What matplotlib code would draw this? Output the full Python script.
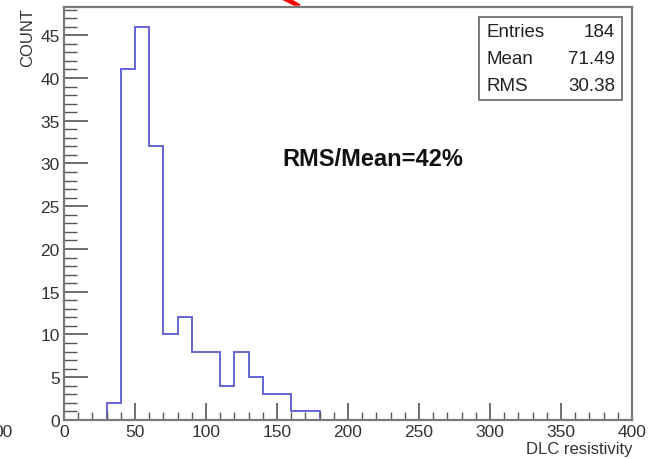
import numpy as np
import matplotlib
matplotlib.use("Agg")
import matplotlib.pyplot as plt
from matplotlib.ticker import MultipleLocator
from matplotlib.patches import Rectangle, Polygon

plt.rcParams['font.family'] = ['Liberation Sans', 'DejaVu Sans']

# histogram of DLC resistivity, 10-wide bins starting at 30
bin_edges = [30, 40, 50, 60, 70, 80, 90, 100, 110, 120, 130, 140, 150, 160, 170, 180]
counts = [2, 41, 46, 32, 10, 12, 8, 8, 4, 8, 5, 3, 3, 1, 1]

stat_names = ["Entries", "Mean", "RMS"]
stat_values = ["184", "71.49", "30.38"]
ratio_label = "RMS/Mean=42%"

W, H = 659, 460
fig = plt.figure(figsize=(W / 100, H / 100), dpi=100)
ax = fig.add_axes([64 / W, 1 - 421 / H, (632 - 64) / W, (421 - 8) / H])

ax.stairs(counts, bin_edges, color='#6464d6', lw=1.4)
ax.set_xlim(0, 400)
ax.set_ylim(0, 1.05 * max(counts))

frame_c = '#7a7a7a'
for s in ax.spines.values():
    s.set_color(frame_c)
    s.set_linewidth(1.6)

ax.xaxis.set_major_locator(MultipleLocator(50))
ax.xaxis.set_minor_locator(MultipleLocator(10))
ax.yaxis.set_major_locator(MultipleLocator(5))
ax.yaxis.set_minor_locator(MultipleLocator(1))
ax.tick_params(axis='x', which='major', direction='in', length=12, width=1.2,
               color='#555555', labelsize=12.5, pad=3, labelcolor='#333333')
ax.tick_params(axis='x', which='minor', direction='in', length=6, width=1.0, color='#555555')
ax.tick_params(axis='y', which='major', direction='in', length=17, width=1.2,
               color='#555555', labelsize=12.5, pad=3, labelcolor='#333333')
ax.tick_params(axis='y', which='minor', direction='in', length=9, width=1.0, color='#555555')

ax.set_xlabel("DLC resistivity", fontsize=12, color='#333333', loc='right', labelpad=1)
ax.set_ylabel("COUNT", fontsize=12, color='#333333', loc='top', labelpad=4)

# stats box in the top right corner
bx0, bx1 = (479 - 64) / 568, (622 - 64) / 568
by0, by1 = (421 - 101) / 413, (421 - 18) / 413
ax.add_patch(Rectangle((bx0, by0), bx1 - bx0, by1 - by0, transform=ax.transAxes,
                       fill=True, facecolor='white', edgecolor=frame_c, lw=1.4, zorder=5))
row_y = [33, 60, 87]
for name, val, py in zip(stat_names, stat_values, row_y):
    yy = (421 - py) / 413
    ax.text((486 - 64) / 568, yy, name, transform=ax.transAxes, ha='left', va='center',
            fontsize=13.5, color='#222222', zorder=6)
    ax.text((615 - 64) / 568, yy, val, transform=ax.transAxes, ha='right', va='center',
            fontsize=13.5, color='#222222', zorder=6)

ax.text((282 - 64) / 568, (421 - 160) / 413, ratio_label, transform=ax.transAxes,
        ha='left', va='center', fontsize=17, fontweight='bold', color='#111111')

# leftover pieces at the figure edges
fig.text(13 / W, 1 - 433 / H, "00", ha='right', va='center', fontsize=12.5, color='#333333')
fig.patches.append(Polygon([(282 / W, 1.0), (290 / W, 1.0), (300 / W, 1 - 6 / H), (294 / W, 1 - 6 / H)],
                           closed=True, transform=fig.transFigure, color='red', figure=fig))

fig.savefig("out.png", dpi=100, facecolor='white')
